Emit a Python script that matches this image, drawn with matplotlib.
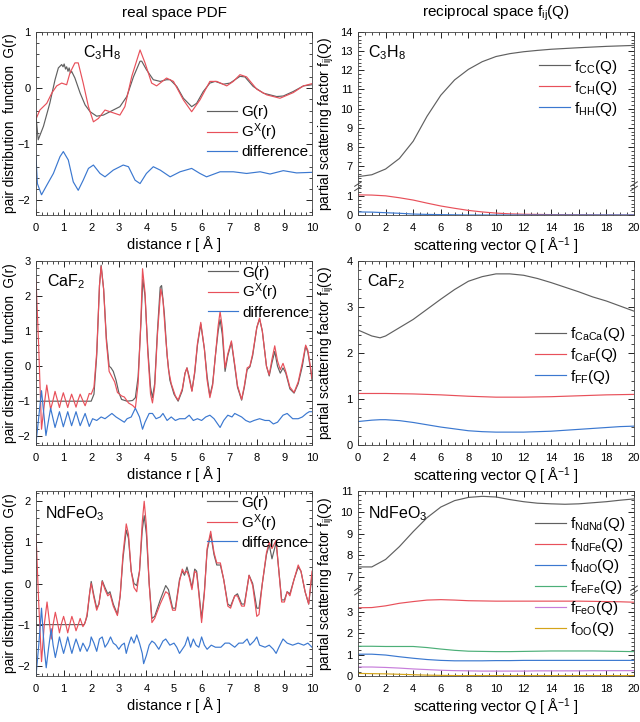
import numpy as np
import matplotlib
matplotlib.use("Agg")
import matplotlib.pyplot as plt
from matplotlib.ticker import FixedLocator, MultipleLocator

plt.rcParams["font.family"] = ["Liberation Sans", "DejaVu Sans"]
plt.rcParams["mathtext.fontset"] = "custom"
plt.rcParams["mathtext.rm"] = "Liberation Sans"
plt.rcParams["mathtext.it"] = "Liberation Sans:italic"

# ---------------- real space data ----------------
# C3H8
c3h8_r_G = [0, 0.08, 0.27, 0.5, 0.69, 0.81, 0.93, 0.98, 1.02, 1.07, 1.11, 1.16, 1.2, 1.25, 1.29, 1.41, 1.6,
            1.78, 1.96, 2.2, 2.44, 2.8, 3.04, 3.29, 3.53, 3.77, 3.83, 4.0, 4.25, 4.5, 4.73, 4.86, 5.1, 5.34,
            5.64, 5.82, 6.06, 6.3, 6.49, 6.79, 7.03, 7.39, 7.57, 7.87, 8.24, 8.72, 8.96, 9.32, 9.69, 10.0]
c3h8_G = [-0.5, -0.92, -0.68, -0.27, 0.15, 0.36, 0.42, 0.38, 0.43, 0.34, 0.38, 0.3, 0.36, 0.27, 0.3, 0.18, -0.09,
          -0.3, -0.42, -0.5, -0.48, -0.39, -0.33, -0.15, 0.2, 0.48, 0.48, 0.33, 0.15, 0.12, 0.15, 0.15, 0.03, -0.18,
          -0.33, -0.27, -0.06, 0.09, 0.12, 0.07, 0.09, 0.21, 0.2, 0.03, -0.09, -0.15, -0.14, -0.06, 0.04, 0.06]
c3h8_r_GX = [0, 0.14, 0.39, 0.57, 0.75, 0.93, 1.11, 1.23, 1.41, 1.53, 1.71, 1.9, 2.08, 2.26, 2.5, 2.68, 3.04,
             3.22, 3.47, 3.77, 3.95, 4.19, 4.37, 4.73, 4.98, 5.34, 5.64, 5.94, 6.3, 6.55, 6.91, 7.15, 7.39, 7.63,
             8.0, 8.36, 8.84, 9.32, 9.69, 10.0]
c3h8_GX = [-0.55, -0.39, -0.27, -0.09, 0.04, 0.09, 0.06, 0.27, 0.45, 0.45, 0.09, -0.33, -0.6, -0.54, -0.39, -0.42,
           -0.48, -0.33, 0.21, 0.68, 0.45, 0.09, 0.04, 0.18, 0.12, -0.21, -0.42, -0.21, 0.12, 0.12, 0.04, 0.12,
           0.24, 0.2, -0.02, -0.12, -0.18, -0.08, 0.04, 0.08]
c3h8_r_diff = [0, 0.05, 0.2, 0.39, 0.63, 0.87, 0.99, 1.17, 1.35, 1.53, 1.71, 1.9, 2.08, 2.32, 2.5, 2.8, 3.16,
               3.35, 3.59, 3.77, 4.0, 4.25, 4.5, 4.86, 5.22, 5.64, 5.94, 6.18, 6.67, 7.15, 7.63, 8.12, 8.48,
               8.96, 9.44, 10.0]
c3h8_diff = [-1.22, -1.7, -1.9, -1.73, -1.52, -1.22, -1.13, -1.28, -1.67, -1.82, -1.64, -1.43, -1.37, -1.52,
             -1.58, -1.46, -1.37, -1.4, -1.64, -1.7, -1.52, -1.4, -1.46, -1.58, -1.49, -1.43, -1.52, -1.58,
             -1.49, -1.49, -1.52, -1.49, -1.53, -1.47, -1.51, -1.5]

# CaF2
caf2_r_G = [0, 2.0, 2.1, 2.2, 2.3, 2.36, 2.45, 2.55, 2.65, 2.72, 2.8, 2.9, 3.0, 3.1, 3.3, 3.5, 3.6, 3.7, 3.8,
            3.87, 3.95, 4.05, 4.15, 4.22, 4.3, 4.4, 4.5, 4.55, 4.65, 4.75, 4.85, 5.0, 5.15, 5.3, 5.4, 5.47, 5.55,
            5.65, 5.75, 5.85, 5.97, 6.1, 6.2, 6.3, 6.4, 6.5, 6.6, 6.67, 6.75, 6.85, 6.95, 7.08, 7.2, 7.3, 7.45,
            7.55, 7.65, 7.75, 7.85, 8.0, 8.1, 8.2, 8.35, 8.45, 8.55, 8.65, 8.75, 8.85, 8.95, 9.05, 9.2, 9.35, 9.5,
            9.65, 9.77, 9.85, 9.95, 10.0]
caf2_G = [-1, -1, -0.8, 0.3, 2.3, 2.88, 2.2, 0.8, 0.0, -0.05, -0.15, -0.4, -0.75, -0.95, -1.0, -0.98, -0.9, -0.3,
          1.2, 2.48, 2.0, 0.5, -0.6, -0.9, -0.5, 1.0, 2.25, 2.3, 1.5, 0.3, -0.4, -0.8, -1.0, -0.7, -0.2, -0.05,
          -0.3, -0.7, -0.2, 0.6, 1.2, 0.5, -0.3, -0.85, -0.5, 0.3, 1.0, 1.33, 0.9, -0.15, 0.3, 0.68, 0.0, -0.6,
          -0.97, -0.6, -0.1, -0.02, 0.3, 1.1, 1.35, 1.0, 0.0, -0.28, 0.1, 0.42, 0.0, -0.2, -0.05, -0.2, -0.65,
          -0.77, -0.5, 0.0, 0.57, 0.4, -0.1, -0.4]
caf2_r_GX = [0, 0.1, 0.2, 0.3, 0.39, 0.46, 0.53, 0.61, 0.69, 0.77, 0.85, 0.92, 0.99, 1.07, 1.15, 1.22, 1.29, 1.37,
             1.45, 1.52, 1.6, 1.69, 1.78, 1.86, 1.93, 2.0, 2.1, 2.2, 2.3, 2.36, 2.45, 2.55, 2.65, 2.75, 2.85, 2.95,
             3.1, 3.2, 3.35, 3.5, 3.6, 3.7, 3.8, 3.86, 3.95, 4.05, 4.15, 4.22, 4.3, 4.4, 4.52, 4.6, 4.7, 4.8, 4.9,
             5.05, 5.15, 5.3, 5.4, 5.47, 5.55, 5.65, 5.75, 5.85, 5.97, 6.1, 6.2, 6.3, 6.4, 6.5, 6.6, 6.67, 6.75,
             6.85, 6.95, 7.08, 7.2, 7.3, 7.45, 7.55, 7.65, 7.75, 7.85, 8.0, 8.1, 8.2, 8.35, 8.45, 8.55, 8.65, 8.75,
             8.85, 8.95, 9.05, 9.2, 9.35, 9.5, 9.65, 9.77, 9.85, 9.95, 10.0]
caf2_GX = [2.5, 0.5, -1.8, -1.1, -0.54, -0.9, -1.23, -1.0, -0.72, -0.95, -1.18, -0.95, -0.76, -0.97, -1.18, -0.98,
           -0.8, -0.98, -1.17, -0.98, -0.8, -0.97, -1.13, -0.95, -0.78, -0.8, -0.6, 0.4, 2.3, 2.85, 2.2, 0.7, -0.15,
           -0.3, -0.45, -0.75, -0.85, -0.88, -1.05, -1.12, -1.2, -0.5, 1.3, 2.78, 2.1, 0.4, -0.8, -1.05, -0.6, 0.9,
           2.2, 1.9, 0.8, -0.1, -0.5, -0.85, -0.97, -0.65, -0.2, -0.05, -0.35, -0.72, -0.15, 0.65, 1.25, 0.5, -0.4,
           -0.9, -0.55, 0.3, 1.15, 1.56, 1.1, -0.05, 0.35, 0.72, 0.05, -0.55, -0.95, -0.55, -0.05, 0.0, 0.35, 1.1,
           1.37, 1.0, 0.0, -0.25, 0.2, 0.58, 0.15, -0.1, 0.08, -0.15, -0.6, -0.75, -0.45, 0.1, 0.6, 0.45, -0.05,
           -0.35]
caf2_r_diff = [0, 0.2, 0.36, 0.53, 0.69, 0.85, 0.99, 1.15, 1.29, 1.45, 1.6, 1.78, 1.93, 2.05, 2.2, 2.36, 2.5, 2.75,
               2.9, 3.0, 3.2, 3.3, 3.45, 3.6, 3.75, 3.86, 3.95, 4.1, 4.22, 4.35, 4.5, 4.6, 4.75, 4.9, 5.05, 5.2,
               5.4, 5.55, 5.7, 5.85, 6.0, 6.15, 6.3, 6.45, 6.67, 6.8, 6.95, 7.1, 7.2, 7.45, 7.6, 7.75, 7.9, 8.1,
               8.3, 8.45, 8.6, 8.75, 8.95, 9.1, 9.3, 9.5, 9.65, 9.8, 9.9, 10.0]
caf2_diff = [-2.2, -0.7, -1.98, -1.2, -1.75, -1.3, -1.73, -1.3, -1.7, -1.3, -1.7, -1.35, -1.72, -1.5, -1.55, -1.45,
             -1.5, -1.35, -1.45, -1.5, -1.6, -1.5, -1.45, -1.2, -1.45, -1.8, -1.6, -1.35, -1.35, -1.5, -1.45,
             -1.35, -1.55, -1.45, -1.55, -1.5, -1.5, -1.4, -1.55, -1.5, -1.55, -1.45, -1.4, -1.5, -1.75, -1.55,
             -1.4, -1.45, -1.35, -1.45, -1.55, -1.6, -1.55, -1.5, -1.55, -1.55, -1.65, -1.6, -1.4, -1.35, -1.5,
             -1.5, -1.45, -1.35, -1.3, -1.3]

# NdFeO3
nfo_r_G = [0, 1.75, 1.85, 1.95, 2.0, 2.1, 2.2, 2.28, 2.4, 2.5, 2.6, 2.68, 2.8, 2.95, 3.05, 3.15, 3.27, 3.35, 3.45,
           3.55, 3.65, 3.75, 3.85, 3.92, 4.0, 4.1, 4.2, 4.3, 4.5, 4.7, 4.8, 4.95, 5.05, 5.2, 5.3, 5.38, 5.47, 5.55,
           5.65, 5.75, 5.82, 5.9, 6.0, 6.1, 6.2, 6.33, 6.45, 6.55, 6.68, 6.8, 6.95, 7.05, 7.2, 7.3, 7.45, 7.55,
           7.72, 7.85, 8.0, 8.08, 8.2, 8.35, 8.45, 8.55, 8.7, 8.8, 8.9, 9.0, 9.1, 9.2, 9.35, 9.5, 9.6, 9.75,
           9.88, 10.0]
nfo_G = [-1, -1, -0.8, -0.2, 0.05, -0.3, -0.6, -0.5, 0.07, -0.1, -0.25, -0.2, -0.5, -0.75, -0.3, 0.6, 1.3, 1.1,
         0.3, 0.0, -0.05, 0.3, 1.3, 1.65, 1.2, 0.0, -0.85, -0.8, -0.4, -0.05, -0.15, -0.6, -0.6, 0.1, 0.3, 0.2,
         0.4, 0.2, -0.1, 0.35, 0.3, -0.2, -0.85, -0.2, 0.8, 1.2, 0.7, 0.45, 0.45, 0.1, -0.5, -0.55, -0.3, -0.25,
         -0.5, -0.5, 0.2, 0.0, -0.6, -0.6, 0.0, 0.7, 0.95, 0.6, 1.0, 0.3, -0.4, -0.4, -0.2, -0.25, 0.1, 0.4, 0.3,
         -0.2, -0.5, 0.2]
nfo_r_GX = [0, 0.1, 0.2, 0.3, 0.4, 0.48, 0.55, 0.62, 0.7, 0.78, 0.85, 0.92, 1.0, 1.08, 1.15, 1.22, 1.3, 1.38,
            1.45, 1.53, 1.6, 1.7, 1.78, 1.85, 1.95, 2.0, 2.1, 2.2, 2.28, 2.4, 2.5, 2.6, 2.68, 2.8, 2.95, 3.05,
            3.15, 3.27, 3.35, 3.45, 3.55, 3.65, 3.75, 3.85, 3.92, 4.0, 4.1, 4.2, 4.3, 4.5, 4.7, 4.8, 4.95, 5.05,
            5.2, 5.3, 5.38, 5.47, 5.55, 5.65, 5.75, 5.82, 5.9, 6.0, 6.1, 6.2, 6.33, 6.45, 6.55, 6.68, 6.8, 6.95,
            7.05, 7.2, 7.3, 7.45, 7.55, 7.72, 7.85, 8.0, 8.08, 8.2, 8.35, 8.45, 8.55, 8.7, 8.8, 8.9, 9.0, 9.1,
            9.2, 9.35, 9.5, 9.6, 9.75, 9.88, 10.0]
nfo_GX = [1.2, -0.5, -1.9, -1.0, -0.45, -0.9, -1.35, -1.0, -0.7, -0.95, -1.2, -0.98, -0.8, -1.0, -1.2, -1.0, -0.8,
          -0.97, -1.15, -1.0, -0.85, -1.05, -0.95, -0.75, -0.2, 0.0, -0.35, -0.65, -0.5, 0.05, -0.15, -0.3, -0.25,
          -0.55, -0.78, -0.3, 0.7, 1.45, 1.2, 0.3, -0.1, -0.2, 0.3, 1.5, 2.0, 1.4, 0.0, -0.95, -0.85, -0.5,
          -0.2, -0.25, -0.65, -0.65, 0.05, 0.35, 0.25, 0.3, 0.15, -0.15, 0.3, 0.25, -0.25, -0.95, -0.25, 0.85,
          1.27, 0.75, 0.5, 0.5, 0.1, -0.55, -0.6, -0.3, -0.3, -0.55, -0.55, 0.2, -0.05, -0.8, -0.75, 0.0, 0.75,
          1.0, 0.85, 1.05, 0.3, -0.45, -0.45, -0.2, -0.3, 0.1, 0.45, 0.3, -0.2, -0.5, 0.3]
nfo_r_diff = [0, 0.1, 0.2, 0.3, 0.37, 0.45, 0.55, 0.62, 0.7, 0.78, 0.85, 0.92, 1.0, 1.08, 1.15, 1.22, 1.3, 1.38,
              1.45, 1.53, 1.6, 1.7, 1.78, 1.85, 1.95, 2.0, 2.1, 2.2, 2.3, 2.4, 2.5, 2.6, 2.7, 2.8, 2.9, 3.0, 3.1,
              3.2, 3.27, 3.35, 3.45, 3.55, 3.65, 3.75, 3.85, 3.9, 4.0, 4.1, 4.2, 4.3, 4.45, 4.6, 4.7, 4.85, 5.0,
              5.1, 5.2, 5.3, 5.4, 5.5, 5.6, 5.7, 5.8, 5.9, 6.0, 6.1, 6.2, 6.35, 6.5, 6.7, 6.85, 7.0, 7.2, 7.35,
              7.5, 7.65, 7.75, 7.9, 8.0, 8.1, 8.3, 8.45, 8.6, 8.7, 8.8, 8.95, 9.1, 9.3, 9.5, 9.7, 9.85, 10.0]
nfo_diff = [-2.25, -1.5, -0.6, -1.6, -2.05, -1.6, -1.1, -1.5, -1.8, -1.55, -1.3, -1.5, -1.7, -1.5, -1.3, -1.5, -1.7,
            -1.5, -1.35, -1.5, -1.65, -1.45, -1.55, -1.65, -1.5, -1.3, -1.45, -1.65, -1.35, -1.3, -1.55, -1.45,
            -1.3, -1.45, -1.5, -1.6, -1.5, -1.45, -1.7, -1.5, -1.3, -1.45, -1.25, -1.45, -1.7, -1.95, -1.75, -1.5,
            -1.4, -1.45, -1.6, -1.4, -1.35, -1.5, -1.45, -1.55, -1.7, -1.6, -1.5, -1.3, -1.55, -1.35, -1.5, -1.55,
            -1.3, -1.5, -1.6, -1.5, -1.55, -1.55, -1.45, -1.45, -1.55, -1.45, -1.45, -1.35, -1.5, -1.4, -1.3, -1.5,
            -1.55, -1.5, -1.6, -1.7, -1.55, -1.35, -1.45, -1.5, -1.45, -1.5, -1.45, -1.55]

# ---------------- reciprocal space data ----------------
q_c3h8 = [0, 1, 2, 3, 4, 5, 6, 7, 8, 9, 10, 11, 12, 13, 14, 16, 18, 20]
f_CC = [6.45, 6.55, 6.85, 7.4, 8.3, 9.6, 10.7, 11.5, 12.05, 12.45, 12.72, 12.87, 12.97, 13.04, 13.1, 13.18, 13.25, 13.3]
f_CH = [1.05, 1.04, 1.0, 0.9, 0.78, 0.62, 0.47, 0.35, 0.24, 0.16, 0.1, 0.06, 0.04, 0.03, 0.02, 0.01, 0.0, 0.0]
f_HH = [0.16, 0.15, 0.12, 0.09, 0.05, 0.03, 0.02, 0.01, 0.0, 0.0, 0.0, 0.0, 0.0, 0.0, 0.0, 0.0, 0.0, 0.0]

q_caf2 = [0, 1, 1.6, 2, 3, 4, 5, 6, 7, 8, 9, 10, 11, 12, 13, 14, 15, 16, 17, 18, 19, 20]
f_CaCa = [2.5, 2.37, 2.33, 2.37, 2.55, 2.73, 2.95, 3.17, 3.38, 3.56, 3.66, 3.72, 3.72, 3.69, 3.62, 3.53, 3.43,
          3.33, 3.22, 3.13, 3.02, 2.91]
f_CaF = [1.12, 1.12, 1.12, 1.12, 1.115, 1.11, 1.1, 1.09, 1.075, 1.06, 1.05, 1.04, 1.04, 1.04, 1.045, 1.05, 1.06,
         1.07, 1.08, 1.09, 1.095, 1.1]
f_FF = [0.51, 0.54, 0.55, 0.55, 0.53, 0.49, 0.44, 0.39, 0.35, 0.31, 0.29, 0.28, 0.28, 0.28, 0.29, 0.3, 0.32, 0.34,
        0.36, 0.38, 0.4, 0.41]

q_nfo = [0, 1, 2, 3, 4, 5, 6, 7, 8, 9, 10, 11, 12, 13, 14, 15, 16, 17, 18, 19, 20]
f_NdNd = [7.45, 7.45, 7.8, 8.4, 9.1, 9.75, 10.25, 10.55, 10.7, 10.75, 10.72, 10.6, 10.5, 10.43, 10.4, 10.38, 10.4,
          10.45, 10.5, 10.57, 10.63]
f_NdFe = [3.19, 3.2, 3.28, 3.4, 3.48, 3.55, 3.57, 3.55, 3.52, 3.51, 3.5, 3.5, 3.5, 3.5, 3.5, 3.5, 3.5, 3.49, 3.48,
          3.47, 3.45]
f_NdO = [1.02, 1.02, 0.98, 0.9, 0.83, 0.77, 0.73, 0.71, 0.71, 0.71, 0.72, 0.72, 0.73, 0.73, 0.73, 0.73, 0.73, 0.73,
         0.73, 0.73, 0.73]
f_FeFe = [1.39, 1.39, 1.38, 1.38, 1.38, 1.33, 1.26, 1.2, 1.16, 1.15, 1.14, 1.14, 1.15, 1.16, 1.17, 1.17, 1.17,
          1.17, 1.16, 1.15, 1.14]
f_FeO = [0.42, 0.42, 0.4, 0.37, 0.33, 0.3, 0.27, 0.25, 0.24, 0.23, 0.23, 0.23, 0.23, 0.24, 0.24, 0.24, 0.24, 0.25,
         0.25, 0.25, 0.25]
f_OO = [0.12, 0.11, 0.1, 0.08, 0.06, 0.04, 0.03, 0.02, 0.02, 0.02, 0.02, 0.02, 0.02, 0.02, 0.02, 0.02, 0.02, 0.02,
        0.02, 0.02, 0.02]

GRAY = "#606060"
RED = "#e8505a"
BLUE = "#3b78d0"
GREEN = "#4caf78"
PURPLE = "#c77ddb"
YELLOW = "#d4a419"
LW = 0.85

fig = plt.figure(figsize=(6.4, 7.22), dpi=100)
W, H = 640.0, 722.0


def make_ax(left, top, right, bottom):
    return fig.add_axes([left / W, 1 - bottom / H, (right - left) / W, (bottom - top) / H])


def style(ax, xmajor, xminor):
    ax.tick_params(which="both", direction="in", top=True, right=True, labelsize=8)
    ax.tick_params(which="major", length=4, width=0.6)
    ax.tick_params(which="minor", length=2, width=0.5)
    ax.tick_params(axis="x", pad=6)
    ax.tick_params(axis="y", pad=4)
    ax.xaxis.set_major_locator(MultipleLocator(xmajor))
    ax.xaxis.set_minor_locator(MultipleLocator(xminor))
    for s in ax.spines.values():
        s.set_color("#444444")
        s.set_linewidth(0.6)


def break_scale(ax, lo, hi):
    gap = hi - lo

    def fwd(y):
        y = np.asarray(y, dtype=float)
        return np.where(y <= lo, y, np.where(y >= hi, y - gap, lo))

    def inv(v):
        v = np.asarray(v, dtype=float)
        return np.where(v <= lo, v, v + gap)

    ax.set_yscale("function", functions=(fwd, inv))


def break_marks(ax, frac):
    for xa in (0, 1):
        for dy in (-0.012, 0.012):
            ax.plot([xa - 0.012, xa + 0.012], [frac + dy - 0.012, frac + dy + 0.012],
                    transform=ax.transAxes, color="#444444", lw=0.7, clip_on=False)


rows = [(32, 215), (261, 445), (491, 676)]
lefts = (36, 312)
rights = (358, 634)

real_sets = [
    ("C$_3$H$_8$", (c3h8_r_G, c3h8_G), (c3h8_r_GX, c3h8_GX), (c3h8_r_diff, c3h8_diff), (-2.26, 1.0),
     [-2, -1, 0, 1], (0.17, 0.885), (0.986, 0.6)),
    ("CaF$_2$", (caf2_r_G, caf2_G), (caf2_r_GX, caf2_GX), (caf2_r_diff, caf2_diff), (-2.25, 3.0),
     [-2, -1, 0, 1, 2, 3], (0.04, 0.886), (0.99, 0.975)),
    ("NdFeO$_3$", (nfo_r_G, nfo_G), (nfo_r_GX, nfo_GX), (nfo_r_diff, nfo_diff), (-2.25, 2.25),
     [-2, -1, 0, 1, 2], (0.033, 0.88), (0.986, 0.975)),
]

for (top, bot), (name, g, gx, dif, ylim, yt, lab, leg) in zip(rows, real_sets):
    ax = make_ax(lefts[0], top, lefts[1], bot)
    ax.plot(g[0], g[1], color=GRAY, lw=LW, label="G(r)")
    ax.plot(gx[0], gx[1], color=RED, lw=LW, label="G$^{\\mathrm{X}}$(r)")
    ax.plot(dif[0], dif[1], color=BLUE, lw=LW, label="difference")
    ax.set_xlim(0, 10)
    ax.set_ylim(*ylim)
    style(ax, 1, 0.2)
    ax.yaxis.set_major_locator(FixedLocator(yt))
    ax.yaxis.set_minor_locator(MultipleLocator(0.2))
    ax.set_xlabel("distance r [ Å ]", fontsize=10.5, labelpad=2)
    ax.set_ylabel("pair distribution  function  G(r)", fontsize=9.8)
    ax.yaxis.set_label_coords(-0.068, 0.5)
    ax.text(lab[0], lab[1], name, transform=ax.transAxes, fontsize=11.5, va="center", ha="left")
    ax.legend(loc="upper right", bbox_to_anchor=leg, frameon=False, fontsize=11, handlelength=2.0,
              handletextpad=0.25, labelspacing=0.15, borderaxespad=0, borderpad=0)
    if top == 32:
        ax.set_title("real space PDF", fontsize=11, pad=11)

# reciprocal panels
recip_sets = [
    ("C$_3$H$_8$", q_c3h8, [("CC", f_CC, GRAY), ("CH", f_CH, RED), ("HH", f_HH, BLUE)],
     (1.5, 5.95), (0, 14), [0, 1, 7, 8, 9, 10, 11, 12, 13, 14], (0.036, 0.885), (0.938, 0.86)),
    ("CaF$_2$", q_caf2, [("CaCa", f_CaCa, GRAY), ("CaF", f_CaF, RED), ("FF", f_FF, BLUE)],
     None, (0, 4), [0, 1, 2, 3, 4], (0.033, 0.886), (0.967, 0.65)),
    ("NdFeO$_3$", q_nfo, [("NdNd", f_NdNd, GRAY), ("NdFe", f_NdFe, RED), ("NdO", f_NdO, BLUE),
                          ("FeFe", f_FeFe, GREEN), ("FeO", f_FeO, PURPLE), ("OO", f_OO, YELLOW)],
     (4.0, 6.35), (0, 11), [0, 1, 2, 3, 7, 8, 9, 10, 11], (0.036, 0.88), (0.967, 0.87)),
]

for (top, bot), (name, q, series, brk, ylim, yt, lab, leg) in zip(rows, recip_sets):
    ax = make_ax(rights[0], top, rights[1], bot)
    for sub, vals, col in series:
        ax.plot(q, vals, color=col, lw=LW, label="f$_{\\mathrm{%s}}$(Q)" % sub)
    ax.set_xlim(0, 20)
    style(ax, 2, 0.5)
    if brk is not None:
        break_scale(ax, brk[0], brk[1])
    ax.set_ylim(*ylim)
    ax.yaxis.set_major_locator(FixedLocator(yt))
    if brk is not None:
        minors = [v for v in np.arange(0, ylim[1] + 0.01, 0.2) if v < brk[0] - 0.01 or v > brk[1] + 0.01]
        ax.yaxis.set_minor_locator(FixedLocator(minors))
        frac = brk[0] / (ylim[1] - (brk[1] - brk[0]))
        break_marks(ax, frac)
    else:
        ax.yaxis.set_minor_locator(MultipleLocator(0.2))
    ax.set_xlabel("scattering vector Q [ Å$^{\\mathrm{-1}}$ ]", fontsize=10.5, labelpad=2)
    ax.set_ylabel("partial scattering factor f$_{\\mathrm{ij}}$(Q)", fontsize=10)
    ax.yaxis.set_label_coords(-0.078, 0.5)
    ax.text(lab[0], lab[1], name, transform=ax.transAxes, fontsize=11.5, va="center", ha="left")
    ax.legend(loc="upper right", bbox_to_anchor=leg, frameon=False, fontsize=11, handlelength=2.0,
              handletextpad=0.25, labelspacing=0.2, borderaxespad=0, borderpad=0)
    if top == 32:
        ax.set_title("reciprocal space f$_{\\mathrm{ij}}$(Q)", fontsize=11, pad=11)

fig.savefig("out.png", dpi=100)
